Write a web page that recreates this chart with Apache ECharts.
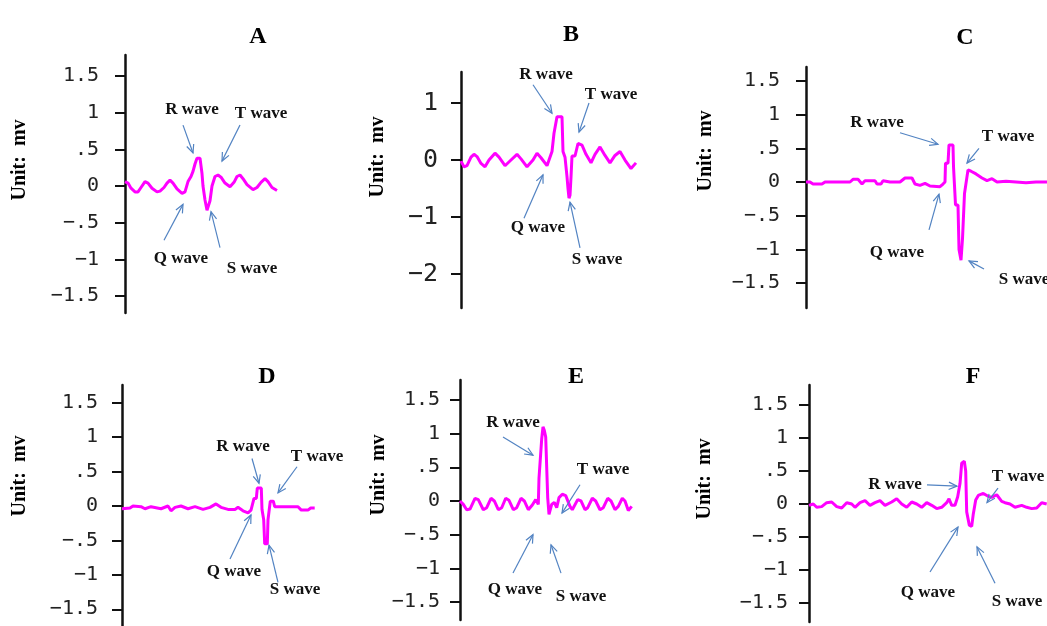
<!DOCTYPE html>
<html><head><meta charset="utf-8">
<script src="https://cdn.jsdelivr.net/npm/echarts@6/dist/echarts.min.js"></script>
<style>html,body{margin:0;padding:0;background:#fff}#c{width:1047px;height:626px}</style>
</head><body><div id="c"></div>
<script>
// ---- DATA ----
const panelNames = ['A','B','C','D','E','F'];
const unitLabel = 'Unit:  mv';
const waveLabels = ['R wave','T wave','Q wave','S wave'];

// time (sample units) and amplitude (mV)
const tA = [0,3,6,10,13,16,20,23,27,32,35,39,42,45,48,52,57,60,63,66,68,70,72,75,77,78,80,82,84,85,87,90,93,96,100,105,109,112,115,118,122,128,132,136,140,143,147,152];
const vA = [0.06,0.04,-0.03,-0.08,-0.08,-0.02,0.06,0.04,-0.03,-0.08,-0.07,-0.02,0.04,0.08,0.04,-0.04,-0.1,-0.08,0.06,0.13,0.2,0.3,0.38,0.38,0.17,0.0,-0.19,-0.33,-0.33,-0.2,0.0,0.13,0.15,0.12,0.04,-0.01,0.05,0.13,0.15,0.1,0.02,-0.05,-0.02,0.05,0.1,0.06,-0.02,-0.06];

const tB = [0,3,6,10,13,16,20,24,28,34,38,44,50,56,60,66,72,76,80,86,88,91,93,96,101,102,104,106,107,108,109,110,111,114,117,121,125,130,134,139,144,149,154,159,164,170,175];
const vB = [-0.02,-0.12,-0.1,0.05,0.1,0.06,-0.06,-0.12,0.0,0.12,0.05,-0.1,0.0,0.1,0.02,-0.12,0.0,0.12,0.04,-0.1,-0.12,0.15,0.47,0.76,0.76,0.15,0.05,-0.29,-0.5,-0.67,-0.62,-0.3,0.07,0.07,0.29,0.26,0.1,-0.05,0.1,0.23,0.08,-0.05,0.08,0.15,0.0,-0.15,-0.05];

const tC = [0,4,7,16,19,44,47,52,56,59,69,71,75,77,84,94,99,106,109,114,119,124,134,137,139,139.5,142,143,147,147.5,149,149.5,152,153,155,156,156.5,158,158.5,160,162,165,170,176,181,186,191,200,210,220,230,241];
const vC = [0,0,-0.03,-0.03,0,0,0.04,0.04,-0.03,0.02,0.02,-0.03,-0.03,0.02,0,0,0.06,0.06,-0.03,-0.05,-0.02,-0.06,-0.07,-0.03,0,0.28,0.28,0.55,0.55,0.23,0.23,-0.34,-0.34,-1.0,-1.16,-1.16,-0.84,-0.84,-0.17,-0.17,0.18,0.16,0.12,0.06,0.02,0.05,0,0.01,0,-0.01,0,0];

const tD = [0,8,11,19,23,29,39,46,49,53,59,66,73,81,88,94,99,106,113,116,121,126,129,132,134.3,135.3,139.3,140,141.3,141.7,142.7,145.3,146,147.7,148.3,151.3,152.7,176,179.3,186,188.7,192.7];
const vD = [-0.04,-0.03,0,-0.01,-0.04,-0.01,-0.04,0,-0.07,-0.02,0,-0.04,-0.01,-0.05,-0.02,0.03,-0.02,-0.05,-0.05,-0.02,-0.07,-0.1,-0.06,0.11,0.11,0.26,0.26,-0.05,-0.05,-0.2,-0.55,-0.55,-0.2,-0.2,0.07,0.07,-0.01,-0.01,-0.06,-0.06,-0.03,-0.03];

const tE = [0,3.3,6.7,10,15,18.3,23.3,26.7,31,34.3,38.3,41.7,45.7,49,53.3,56.7,61,64.3,68.3,72.3,75.7,78.3,79,81,81.7,83,84.3,85.7,87,87.7,89,90.3,91.7,94.3,96.7,99,102.3,105.7,110,112.3,117.7,121,125,127.7,132.3,135.7,140,143.3,147.7,151,155,158.3,162.3,165,168.3,171.7];
const vE = [0,-0.05,-0.13,-0.12,0.04,0.02,-0.13,-0.1,0.04,0,-0.13,-0.1,0.04,0.01,-0.13,-0.1,0.04,0,-0.13,-0.06,0.02,-0.05,0.34,0.34,0.92,1.1,1.05,0.95,0.95,0.05,-0.2,-0.18,-0.05,-0.02,-0.1,0.05,0.1,0.08,-0.08,-0.13,0.02,0,-0.13,-0.1,0.04,0,-0.13,-0.1,0.04,0,-0.13,-0.08,0.04,0,-0.14,-0.08];

const tF = [0,4.3,7.7,12.7,17.7,22.7,27.7,32.7,37.7,42.7,46,51,56,61,66,71,76,82.7,87.7,92.7,97.7,102.7,107.7,112.7,117.7,122.7,127.7,132.7,137.7,140,142.7,146,148.7,151,152.7,155.3,156.7,157.7,159.3,160.3,162.7,164.3,166.7,169.3,174.3,178.7,182.7,187.7,192.7,196,201,206,212.7,217.7,222.7,227.7,232.7,237.7];
const vF = [-0.02,0,-0.05,-0.04,0.02,0.03,-0.04,-0.06,0.02,0,-0.05,0.02,0.05,-0.02,0.02,0.05,-0.02,0.03,0.08,0,-0.05,0.03,0,-0.05,0.02,-0.02,-0.07,-0.05,0.02,0.08,-0.02,-0.02,0.11,0.31,0.62,0.65,0.5,-0.12,-0.12,-0.32,-0.34,-0.15,0.06,0.13,0.16,0.12,0.1,0.14,0.04,0.02,0,-0.05,-0.02,-0.05,-0.07,-0.06,0.02,0];

// tick values and tick labels
const ticksStd = [-1.5,-1,-0.5,0,0.5,1,1.5];
const tickLabelsStd = ['\u22121.5','\u22121','\u2212.5','0','.5','1','1.5'];
const ticksB = [-2,-1,0,1];
const tickLabelsB = ['\u22122','\u22121','0','1'];

// annotation anchors (time, mV) per wave label: [label position, arrow tail, arrow head]
const annA = [[[67,1.04],[58,0.83],[68,0.45]],[[136,0.99],[115,0.83],[97,0.34]],[[56,-0.99],[39,-0.74],[58,-0.25]],[[127,-1.12],[95,-0.84],[86,-0.35]]];
const annB = [[[85,1.49],[72,1.32],[91,0.82]],[[150,1.14],[128,1.0],[118,0.49]],[[77,-1.19],[63,-1.02],[82,-0.26]],[[136,-1.74],[119,-1.54],[109,-0.74]]];
const annC = [[[71,0.88],[94,0.73],[132,0.56]],[[202,0.67],[173,0.5],[161,0.28]],[[91,-1.05],[123,-0.71],[133,-0.18]],[[218,-1.45],[178,-1.29],[163,-1.17]]];
const annD = [[[121,0.86],[130,0.69],[137,0.33]],[[195,0.71],[175,0.57],[156,0.19]],[[112,-0.96],[108,-0.77],[129,-0.13]],[[173,-1.21],[156,-1.11],[147,-0.57]]];
const annE = [[[53,1.16],[43,0.95],[73,0.68]],[[143,0.47],[120,0.24],[102,-0.18]],[[55,-1.31],[53,-1.07],[73,-0.5]],[[121,-1.42],[101,-1.07],[91,-0.65]]];
const annF = [[[86,0.3],[118,0.29],[148,0.27]],[[209,0.41],[189,0.24],[178,0.02]],[[119,-1.35],[121,-1.03],[149,-0.35]],[[208,-1.48],[186,-1.2],[168,-0.65]]];

// ---- LAYOUT / STYLE ----
const layout = [
  {left:125,top:55,width:200,height:258,yMin:-1.73,yMax:1.785,margin:26,fs:20,title:[253,33],unit:[20,160]},
  {left:461,top:72,width:185,height:236,yMin:-2.596,yMax:1.544,margin:23,fs:25,title:[566,31],unit:[378,157]},
  {left:806,top:67,width:241,height:241,yMin:-1.869,yMax:1.706,margin:26,fs:20,title:[960,34],unit:[706,151]},
  {left:122,top:385,width:200,height:245,yMin:-1.743,yMax:1.757,margin:24,fs:20,title:[262,373],unit:[20,476]},
  {left:460,top:380,width:180,height:240,yMin:-1.766,yMax:1.795,margin:20,fs:20,title:[571,373],unit:[379,475]},
  {left:809,top:385,width:238,height:237,yMin:-1.788,yMax:1.803,margin:21,fs:20,title:[968,373],unit:[705,479]}
];
const times = [tA,tB,tC,tD,tE,tF];
const vals = [vA,vB,vC,vD,vE,vF];
const anns = [annA,annB,annC,annD,annE,annF];
const LINE = '#ff00ff', ARROW = '#5283c2';
const SERIF = '"Liberation Serif","Times New Roman",serif';

const chart = echarts.init(document.getElementById('c'), null, {renderer:'canvas'});
const grids = [], xAxes = [], yAxes = [], series = [];
layout.forEach((L, i) => {
  const tv = i === 1 ? ticksB : ticksStd;
  const tl = i === 1 ? tickLabelsB : tickLabelsStd;
  grids.push({left:L.left, top:L.top, width:L.width, height:L.height, containLabel:false});
  xAxes.push({type:'value', gridIndex:i, min:0, max:L.width, show:false});
  yAxes.push({
    type:'value', gridIndex:i, min:L.yMin, max:L.yMax,
    axisLine:{show:true, onZero:false, lineStyle:{color:'#111', width:2.5}},
    axisTick:{show:true, inside:false, length:10, customValues:tv, lineStyle:{color:'#111', width:2}},
    axisLabel:{show:true, margin:L.margin, customValues:tv, color:'#222',
      fontFamily:'"DejaVu Sans Mono","Liberation Mono",monospace', fontSize:L.fs,
      formatter:(v) => { const k = tv.findIndex(x => Math.abs(x - v) < 1e-6); return k >= 0 ? tl[k] : ''; }},
    splitLine:{show:false}
  });
  series.push({
    type:'line', xAxisIndex:i, yAxisIndex:i, showSymbol:false, smooth:false, animation:false,
    lineStyle:{color:LINE, width:3}, itemStyle:{color:LINE},
    data: times[i].map((t, k) => [t, vals[i][k]])
  });
});

chart.setOption({
  animation:false,
  backgroundColor:'#fff',
  title: layout.map((L, i) => ({text:panelNames[i], left:L.title[0], top:L.title[1]-13, textAlign:'center',
    textStyle:{fontFamily:SERIF, fontWeight:'bold', fontSize:24, color:'#000'}})),
  grid:grids, xAxis:xAxes, yAxis:yAxes, series:series
});

function arrowEls(p0, p1) {
  const dx = p1[0]-p0[0], dy = p1[1]-p0[1], len = Math.hypot(dx, dy);
  const ux = dx/len, uy = dy/len, H = 9, a = 0.42, c = Math.cos(a), s = Math.sin(a);
  const w1 = [p1[0] - H*(ux*c - uy*s), p1[1] - H*(uy*c + ux*s)];
  const w2 = [p1[0] - H*(ux*c + uy*s), p1[1] - H*(uy*c - ux*s)];
  return [
    {type:'line', z:100, shape:{x1:p0[0], y1:p0[1], x2:p1[0], y2:p1[1]}, style:{stroke:ARROW, lineWidth:1.2}},
    {type:'polyline', z:100, shape:{points:[w1, p1, w2]}, style:{stroke:ARROW, lineWidth:1.2, fill:null}}
  ];
}
const gfx = [];
layout.forEach((L, i) => {
  gfx.push({type:'text', x:L.unit[0], y:L.unit[1], rotation:Math.PI/2, z:100,
    style:{text:unitLabel, font:'bold 20px ' + SERIF, fill:'#000', align:'center', verticalAlign:'middle', textAlign:'center', textVerticalAlign:'middle'}});
  anns[i].forEach((a, k) => {
    const tp = chart.convertToPixel({gridIndex:i}, a[0]);
    const p0 = chart.convertToPixel({gridIndex:i}, a[1]);
    const p1 = chart.convertToPixel({gridIndex:i}, a[2]);
    gfx.push({type:'text', x:tp[0], y:tp[1], z:100,
      style:{text:waveLabels[k], font:'bold 17px ' + SERIF, fill:'#111', align:'center', verticalAlign:'middle', textAlign:'center', textVerticalAlign:'middle'}});
    arrowEls(p0, p1).forEach(e => gfx.push(e));
  });
});
chart.setOption({graphic: gfx});
</script></body></html>
